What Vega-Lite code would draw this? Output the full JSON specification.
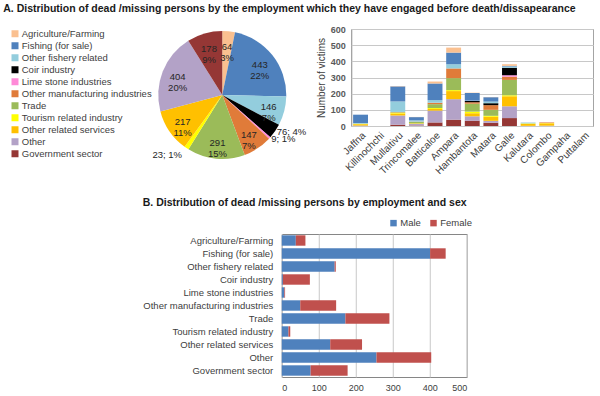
{
  "$schema": "https://vega.github.io/schema/vega-lite/v6.json",
  "padding": {"left": 3, "top": 3, "right": 0, "bottom": 0},
  "title": {"text": "A. Distribution of dead /missing persons by the employment which they have engaged before death/dissapearance", "anchor": "start", "frame": "bounds", "font": "Liberation Sans", "fontSize": 10.5, "fontWeight": "bold", "color": "#1a1a1a", "dx": -7, "offset": 4},
  "datasets": {
    "emp": [
      {"cat": "Agriculture/Farming", "n": 64, "pct": "3%", "k": 0},
      {"cat": "Fishing (for sale)", "n": 443, "pct": "22%", "k": 1},
      {"cat": "Other fishery related", "n": 146, "pct": "7%", "k": 2},
      {"cat": "Coir industry", "n": 76, "pct": "4%", "k": 3},
      {"cat": "Lime stone industries", "n": 9, "pct": "1%", "k": 4},
      {"cat": "Other manufacturing industries", "n": 147, "pct": "7%", "k": 5},
      {"cat": "Trade", "n": 291, "pct": "15%", "k": 6},
      {"cat": "Tourism related industry", "n": 23, "pct": "1%", "k": 7},
      {"cat": "Other related services", "n": 217, "pct": "11%", "k": 8},
      {"cat": "Other", "n": 404, "pct": "20%", "k": 9},
      {"cat": "Government sector", "n": 178, "pct": "9%", "k": 10}
    ],
    "dist": [
      {"d": "Jaffna", "cat": "Government sector", "n": 1},
      {"d": "Jaffna", "cat": "Other", "n": 2},
      {"d": "Jaffna", "cat": "Other related services", "n": 8},
      {"d": "Jaffna", "cat": "Tourism related industry", "n": 3},
      {"d": "Jaffna", "cat": "Other fishery related", "n": 4},
      {"d": "Jaffna", "cat": "Fishing (for sale)", "n": 52},
      {"d": "Mullaitivu", "cat": "Government sector", "n": 8},
      {"d": "Mullaitivu", "cat": "Other", "n": 57},
      {"d": "Mullaitivu", "cat": "Other related services", "n": 12},
      {"d": "Mullaitivu", "cat": "Tourism related industry", "n": 5},
      {"d": "Mullaitivu", "cat": "Trade", "n": 3},
      {"d": "Mullaitivu", "cat": "Other manufacturing industries", "n": 2},
      {"d": "Mullaitivu", "cat": "Other fishery related", "n": 65},
      {"d": "Mullaitivu", "cat": "Fishing (for sale)", "n": 93},
      {"d": "Mullaitivu", "cat": "Agriculture/Farming", "n": 2},
      {"d": "Trincomalee", "cat": "Government sector", "n": 3},
      {"d": "Trincomalee", "cat": "Other", "n": 10},
      {"d": "Trincomalee", "cat": "Other related services", "n": 3},
      {"d": "Trincomalee", "cat": "Tourism related industry", "n": 1},
      {"d": "Trincomalee", "cat": "Trade", "n": 8},
      {"d": "Trincomalee", "cat": "Other manufacturing industries", "n": 2},
      {"d": "Trincomalee", "cat": "Other fishery related", "n": 8},
      {"d": "Trincomalee", "cat": "Fishing (for sale)", "n": 20},
      {"d": "Trincomalee", "cat": "Agriculture/Farming", "n": 1},
      {"d": "Batticaloe", "cat": "Government sector", "n": 22},
      {"d": "Batticaloe", "cat": "Other", "n": 73},
      {"d": "Batticaloe", "cat": "Other related services", "n": 10},
      {"d": "Batticaloe", "cat": "Tourism related industry", "n": 6},
      {"d": "Batticaloe", "cat": "Trade", "n": 24},
      {"d": "Batticaloe", "cat": "Other manufacturing industries", "n": 9},
      {"d": "Batticaloe", "cat": "Other fishery related", "n": 16},
      {"d": "Batticaloe", "cat": "Fishing (for sale)", "n": 103},
      {"d": "Batticaloe", "cat": "Agriculture/Farming", "n": 12},
      {"d": "Ampara", "cat": "Government sector", "n": 39},
      {"d": "Ampara", "cat": "Other", "n": 127},
      {"d": "Ampara", "cat": "Other related services", "n": 50},
      {"d": "Ampara", "cat": "Tourism related industry", "n": 6},
      {"d": "Ampara", "cat": "Trade", "n": 74},
      {"d": "Ampara", "cat": "Other manufacturing industries", "n": 60},
      {"d": "Ampara", "cat": "Other fishery related", "n": 26},
      {"d": "Ampara", "cat": "Fishing (for sale)", "n": 72},
      {"d": "Ampara", "cat": "Agriculture/Farming", "n": 31},
      {"d": "Hambantota", "cat": "Government sector", "n": 33},
      {"d": "Hambantota", "cat": "Other", "n": 27},
      {"d": "Hambantota", "cat": "Other related services", "n": 19},
      {"d": "Hambantota", "cat": "Tourism related industry", "n": 10},
      {"d": "Hambantota", "cat": "Trade", "n": 49},
      {"d": "Hambantota", "cat": "Other manufacturing industries", "n": 9},
      {"d": "Hambantota", "cat": "Coir industry", "n": 8},
      {"d": "Hambantota", "cat": "Other fishery related", "n": 2},
      {"d": "Hambantota", "cat": "Fishing (for sale)", "n": 47},
      {"d": "Hambantota", "cat": "Agriculture/Farming", "n": 2},
      {"d": "Matara", "cat": "Government sector", "n": 20},
      {"d": "Matara", "cat": "Other", "n": 12},
      {"d": "Matara", "cat": "Other related services", "n": 25},
      {"d": "Matara", "cat": "Tourism related industry", "n": 6},
      {"d": "Matara", "cat": "Trade", "n": 37},
      {"d": "Matara", "cat": "Other manufacturing industries", "n": 29},
      {"d": "Matara", "cat": "Coir industry", "n": 12},
      {"d": "Matara", "cat": "Other fishery related", "n": 10},
      {"d": "Matara", "cat": "Fishing (for sale)", "n": 27},
      {"d": "Matara", "cat": "Agriculture/Farming", "n": 1},
      {"d": "Galle", "cat": "Government sector", "n": 49},
      {"d": "Galle", "cat": "Other", "n": 73},
      {"d": "Galle", "cat": "Other related services", "n": 62},
      {"d": "Galle", "cat": "Tourism related industry", "n": 6},
      {"d": "Galle", "cat": "Trade", "n": 95},
      {"d": "Galle", "cat": "Other manufacturing industries", "n": 20},
      {"d": "Galle", "cat": "Lime stone industries", "n": 9},
      {"d": "Galle", "cat": "Coir industry", "n": 46},
      {"d": "Galle", "cat": "Other fishery related", "n": 8},
      {"d": "Galle", "cat": "Fishing (for sale)", "n": 4},
      {"d": "Galle", "cat": "Agriculture/Farming", "n": 10},
      {"d": "Kalutara", "cat": "Other", "n": 1},
      {"d": "Kalutara", "cat": "Other related services", "n": 12},
      {"d": "Kalutara", "cat": "Tourism related industry", "n": 3},
      {"d": "Kalutara", "cat": "Other fishery related", "n": 4},
      {"d": "Kalutara", "cat": "Fishing (for sale)", "n": 1},
      {"d": "Colombo", "cat": "Other", "n": 2},
      {"d": "Colombo", "cat": "Other related services", "n": 14},
      {"d": "Colombo", "cat": "Tourism related industry", "n": 2},
      {"d": "Colombo", "cat": "Other manufacturing industries", "n": 4}
    ],
    "sex": [
      {"cat": "Agriculture/Farming", "sex": "Male", "n": 38},
      {"cat": "Agriculture/Farming", "sex": "Female", "n": 26},
      {"cat": "Fishing (for sale)", "sex": "Male", "n": 401},
      {"cat": "Fishing (for sale)", "sex": "Female", "n": 42},
      {"cat": "Other fishery related", "sex": "Male", "n": 143},
      {"cat": "Other fishery related", "sex": "Female", "n": 3},
      {"cat": "Coir industry", "sex": "Male", "n": 3},
      {"cat": "Coir industry", "sex": "Female", "n": 73},
      {"cat": "Lime stone industries", "sex": "Male", "n": 7},
      {"cat": "Lime stone industries", "sex": "Female", "n": 2},
      {"cat": "Other manufacturing industries", "sex": "Male", "n": 50},
      {"cat": "Other manufacturing industries", "sex": "Female", "n": 97},
      {"cat": "Trade", "sex": "Male", "n": 172},
      {"cat": "Trade", "sex": "Female", "n": 119},
      {"cat": "Tourism related industry", "sex": "Male", "n": 18},
      {"cat": "Tourism related industry", "sex": "Female", "n": 5},
      {"cat": "Other related services", "sex": "Male", "n": 131},
      {"cat": "Other related services", "sex": "Female", "n": 86},
      {"cat": "Other", "sex": "Male", "n": 256},
      {"cat": "Other", "sex": "Female", "n": 148},
      {"cat": "Government sector", "sex": "Male", "n": 78},
      {"cat": "Government sector", "sex": "Female", "n": 100}
    ]
  },
  "spacing": 20,
  "center": true,
  "vconcat": [
    {
      "spacing": 9,
      "resolve": {"scale": {"color": "independent"}, "legend": {"color": "independent"}},
      "hconcat": [
        {
          "width": 122,
          "height": 132,
          "view": {"stroke": null},
          "data": {"name": "emp"},
          "transform": [
            {"calculate": "indexof(['Coir industry','Lime stone industries','Tourism related industry'], datum.cat) < 0 ? datum.n + '\\n' + datum.pct : ''", "as": "inLbl"},
            {"calculate": "indexof(['Coir industry','Lime stone industries'], datum.cat) >= 0 ? datum.n + '; ' + datum.pct : ''", "as": "rLbl"},
            {"calculate": "datum.cat == 'Tourism related industry' ? datum.n + '; ' + datum.pct : ''", "as": "lLbl"}
          ],
          "encoding": {
            "theta": {"field": "n", "type": "quantitative", "stack": true},
            "order": {"field": "k", "type": "quantitative"}
          },
          "layer": [
            {
              "mark": {"type": "arc", "outerRadius": 64},
              "encoding": {
                "color": {
                  "field": "cat", "type": "nominal",
                  "scale": {
                    "domain": ["Agriculture/Farming", "Fishing (for sale)", "Other fishery related", "Coir industry", "Lime stone industries", "Other manufacturing industries", "Trade", "Tourism related industry", "Other related services", "Other", "Government sector"],
                    "range": ["#FAC090", "#4F81BD", "#93CDDD", "#000000", "#FF8AD8", "#E07B39", "#9BBB59", "#FFFF00", "#FFC000", "#B3A2C7", "#953735"]
                  },
                  "legend": {"orient": "left", "title": null, "symbolType": "square", "symbolSize": 49, "symbolStrokeWidth": 0, "labelFontSize": 9.5, "labelColor": "#404040", "labelLimit": 300, "labelOffset": 2, "rowPadding": 1.0, "offset": 9}
                }
              }
            },
            {
              "mark": {"type": "text", "radius": 48, "fontSize": 9.5, "color": "#262626", "lineBreak": "\n", "lineHeight": 11},
              "encoding": {"text": {"field": "inLbl", "type": "nominal"}}
            },
            {
              "mark": {"type": "text", "radius": 66, "fontSize": 9.5, "color": "#262626", "align": "left"},
              "encoding": {"text": {"field": "rLbl", "type": "nominal"}}
            },
            {
              "mark": {"type": "text", "radius": 72, "fontSize": 9.5, "color": "#262626", "align": "right"},
              "encoding": {"text": {"field": "lLbl", "type": "nominal"}}
            }
          ]
        },
        {
          "width": 242,
          "height": 97,
          "data": {"name": "dist"},
          "transform": [{"lookup": "cat", "from": {"data": {"name": "emp"}, "key": "cat", "fields": ["k"]}}],
          "mark": {"type": "bar"},
          "encoding": {
            "x": {
              "field": "d", "type": "nominal",
              "scale": {"domain": ["Jaffna", "Killinochchi", "Mullaitivu", "Trincomalee", "Batticaloe", "Ampara", "Hambantota", "Matara", "Galle", "Kalutara", "Colombo", "Gampaha", "Puttalam"], "paddingInner": 0.2, "paddingOuter": 0.1},
              "axis": {"title": null, "labelAngle": -45, "labelFontSize": 10, "labelColor": "#404040", "labelPadding": 4}
            },
            "y": {
              "field": "n", "type": "quantitative", "stack": true,
              "scale": {"domain": [0, 600]},
              "axis": {"values": [0, 100, 200, 300, 400, 500, 600], "title": "Number of victims", "titleFontSize": 10, "titleFontWeight": "normal", "titleColor": "#404040", "labelFontSize": 9, "labelFontWeight": "bold", "labelColor": "#595959", "labelPadding": 6, "grid": true}
            },
            "color": {
              "field": "cat", "type": "nominal",
              "scale": {
                "domain": ["Agriculture/Farming", "Fishing (for sale)", "Other fishery related", "Coir industry", "Lime stone industries", "Other manufacturing industries", "Trade", "Tourism related industry", "Other related services", "Other", "Government sector"],
                "range": ["#FAC090", "#4F81BD", "#93CDDD", "#000000", "#FF8AD8", "#E07B39", "#9BBB59", "#FFFF00", "#FFC000", "#B3A2C7", "#953735"]
              },
              "legend": null
            },
            "order": {"field": "k", "type": "quantitative", "sort": "descending"}
          }
        }
      ]
    },
    {
      "width": 185,
      "height": 143,
      "title": {"text": "B. Distribution of dead /missing persons by employment and sex", "anchor": "start", "frame": "group", "dx": -139, "font": "Liberation Sans", "fontSize": 10.5, "fontWeight": "bold", "color": "#1a1a1a", "offset": 10},
      "data": {"name": "sex"},
      "mark": {"type": "bar"},
      "encoding": {
        "y": {
          "field": "cat", "type": "nominal",
          "sort": ["Agriculture/Farming", "Fishing (for sale)", "Other fishery related", "Coir industry", "Lime stone industries", "Other manufacturing industries", "Trade", "Tourism related industry", "Other related services", "Other", "Government sector"],
          "scale": {"paddingInner": 0.2, "paddingOuter": 0.1},
          "axis": {"title": null, "labelFontSize": 9.5, "labelColor": "#404040", "labelPadding": 9, "minExtent": 155, "labelLimit": 300}
        },
        "x": {
          "field": "n", "type": "quantitative", "stack": true,
          "scale": {"domain": [0, 500]},
          "axis": {"values": [0, 100, 200, 300, 400, 500], "title": null, "grid": true, "labelFontSize": 9, "labelColor": "#404040", "labelPadding": 6}
        },
        "color": {
          "field": "sex", "type": "nominal",
          "scale": {"domain": ["Male", "Female"], "range": ["#4F81BD", "#C0504D"]},
          "legend": {"orient": "none", "legendX": 107, "legendY": -16, "direction": "horizontal", "title": null, "symbolType": "square", "symbolSize": 42, "symbolStrokeWidth": 0, "labelFontSize": 9.5, "labelColor": "#404040", "columnPadding": 7, "labelOffset": 2}
        },
        "order": {"field": "sex", "type": "nominal", "sort": "descending"}
      }
    }
  ],
  "resolve": {"scale": {"color": "independent"}, "legend": {"color": "independent"}},
  "config": {
    "font": "Liberation Sans",
    "view": {"stroke": "#868686"},
    "axis": {"domain": false, "ticks": false, "gridColor": "#C8C8C8", "labelFont": "Liberation Sans"},
    "legend": {"labelFont": "Liberation Sans"}
  }
}
